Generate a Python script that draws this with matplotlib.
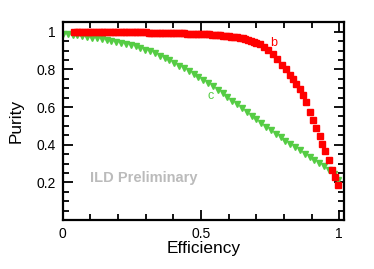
import matplotlib
matplotlib.use("Agg")
import matplotlib.pyplot as plt
from matplotlib.ticker import MultipleLocator

plt.rcParams['font.family'] = ['Liberation Sans', 'DejaVu Sans']

# b-tag curve (red squares)
b_eff = [0.04, 0.05, 0.06, 0.07, 0.08, 0.09, 0.10, 0.11, 0.12, 0.13,
         0.14, 0.15, 0.16, 0.17, 0.18, 0.19, 0.20, 0.21, 0.22, 0.23,
         0.24, 0.25, 0.26, 0.27, 0.28, 0.29, 0.30, 0.31, 0.32, 0.33,
         0.34, 0.35, 0.36, 0.37, 0.38, 0.39, 0.40, 0.41, 0.42, 0.43,
         0.44, 0.45, 0.46, 0.47, 0.48, 0.49, 0.50, 0.51, 0.52, 0.53,
         0.54, 0.55, 0.56, 0.57, 0.58, 0.59, 0.60, 0.61, 0.62, 0.63,
         0.64, 0.65, 0.66, 0.67, 0.68, 0.69, 0.70, 0.712, 0.728, 0.742,
         0.760, 0.776, 0.794, 0.809, 0.821, 0.832, 0.845, 0.857, 0.867, 0.879,
         0.893, 0.905, 0.917, 0.929, 0.939, 0.950, 0.962, 0.972, 0.984, 0.996]
b_pur = [1.000, 1.000, 1.000, 1.000, 1.000, 0.999, 0.999, 0.999, 0.999, 0.999,
         0.999, 0.999, 0.999, 0.998, 0.998, 0.998, 0.998, 0.998, 0.998, 0.997,
         0.997, 0.997, 0.997, 0.996, 0.996, 0.996, 0.996, 0.995, 0.995, 0.995,
         0.995, 0.994, 0.994, 0.993, 0.993, 0.993, 0.993, 0.992, 0.992, 0.991,
         0.991, 0.990, 0.990, 0.989, 0.989, 0.988, 0.988, 0.987, 0.986, 0.985,
         0.984, 0.983, 0.982, 0.980, 0.979, 0.977, 0.976, 0.974, 0.972, 0.970,
         0.967, 0.964, 0.960, 0.956, 0.952, 0.947, 0.942, 0.933, 0.919, 0.903,
         0.880, 0.855, 0.825, 0.801, 0.771, 0.750, 0.722, 0.695, 0.666, 0.624,
         0.576, 0.532, 0.488, 0.447, 0.405, 0.364, 0.320, 0.267, 0.229, 0.184]

# c-tag curve (green triangles)
c_eff = [0.000, 0.018, 0.035, 0.053, 0.070, 0.088, 0.105, 0.123, 0.140, 0.158,
         0.175, 0.193, 0.210, 0.228, 0.245, 0.263, 0.280, 0.298, 0.315, 0.333,
         0.350, 0.368, 0.385, 0.403, 0.420, 0.438, 0.455, 0.473, 0.490, 0.508,
         0.525, 0.543, 0.560, 0.578, 0.595, 0.613, 0.630, 0.648, 0.665, 0.683,
         0.700, 0.718, 0.735, 0.753, 0.770, 0.788, 0.805, 0.823, 0.840, 0.858,
         0.875, 0.893, 0.910, 0.928, 0.945, 0.963, 0.980, 0.996]
c_pur = [0.990, 0.987, 0.984, 0.980, 0.977, 0.973, 0.969, 0.965, 0.961, 0.957,
         0.952, 0.947, 0.942, 0.936, 0.930, 0.922, 0.914, 0.905, 0.895, 0.885,
         0.873, 0.861, 0.848, 0.834, 0.820, 0.805, 0.790, 0.775, 0.759, 0.743,
         0.726, 0.709, 0.691, 0.672, 0.653, 0.634, 0.614, 0.594, 0.574, 0.554,
         0.535, 0.515, 0.496, 0.477, 0.458, 0.440, 0.422, 0.404, 0.387, 0.370,
         0.353, 0.337, 0.320, 0.303, 0.285, 0.266, 0.245, 0.215]

red = '#ff0000'
green = '#55cc44'

fig = plt.figure(figsize=(3.74, 2.69), dpi=100)
ax = fig.add_axes([0.168, 0.182, 0.751, 0.736])

ax.plot(c_eff, c_pur, linestyle='none', marker='v', ms=4.8, color=green, mec=green)
ax.plot(b_eff, b_pur, linestyle='none', marker='s', ms=4.8, color=red, mec=red)

ax.text(0.764, 0.94, 'b', color=red, fontsize=9, ha='center', va='center')
ax.text(0.534, 0.66, 'c', color=green, fontsize=9, ha='center', va='center')
ax.text(0.099, 0.222, 'ILD Preliminary', color='#bbbbbb', fontsize=10.5,
        fontweight='bold', ha='left', va='center')

ax.set_xlim(0, 1.016)
ax.set_ylim(0, 1.051)
ax.set_xticks([0, 0.5, 1])
ax.set_xticklabels(['0', '0.5', '1'])
ax.set_yticks([0.2, 0.4, 0.6, 0.8, 1.0])
ax.set_yticklabels(['0.2', '0.4', '0.6', '0.8', '1'])
ax.xaxis.set_minor_locator(MultipleLocator(0.1))
ax.yaxis.set_minor_locator(MultipleLocator(0.05))
ax.tick_params(which='both', direction='in', top=True, right=True, width=1.3,
               labelsize=10, pad=5)
ax.tick_params(which='major', length=7)
ax.tick_params(which='minor', length=4)
for s in ax.spines.values():
    s.set_linewidth(1.6)

ax.set_xlabel('Efficiency', fontsize=12.4, labelpad=0)
ax.set_ylabel('Purity', fontsize=12.4, labelpad=9)

fig.savefig('out.png', dpi=100)
